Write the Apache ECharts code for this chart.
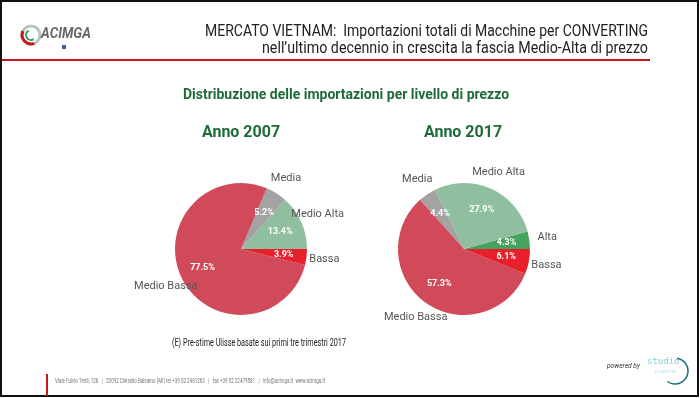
<!DOCTYPE html>
<html>
<head>
<meta charset="utf-8">
<script src="https://cdn.jsdelivr.net/npm/echarts@6/dist/echarts.min.js"></script>
<style>
  html, body { margin: 0; padding: 0; background: #fff; }
  #chart { width: 700px; height: 398px; }
</style>
</head>
<body>
<div id="chart"></div>
<script>
// dati 2007 (ordine antiorario a partire dalle ore 3)
var cat2007 = ['Medio Alta', 'Media', 'Medio Bassa', 'Bassa'];
var val2007 = [13.4, 5.2, 77.5, 3.9];
// dati 2017
var cat2017 = ['Alta', 'Medio Alta', 'Media', 'Medio Bassa', 'Bassa'];
var val2017 = [4.3, 27.9, 4.4, 57.3, 6.1];

var colori = {
    'Alta': '#45a35e',
    'Medio Alta': '#8fbf9e',
    'Media': '#a3a3a3',
    'Medio Bassa': '#d04a59',
    'Bassa': '#e8202c'
};

var verde = '#1e6b38';
var font = 'Roboto';

function dati(cat, val) {
    return cat.map(function (c, i) {
        return { name: c, value: val[i], itemStyle: { color: colori[c] } };
    });
}

// tre serie per ogni torta: fette, percentuali interne, nomi esterni
function torta(cat, val, cx) {
    var base = {
        type: 'pie',
        center: [cx, 249],
        startAngle: 0,
        clockwise: false,
        silent: true,
        animation: false,
        labelLine: { show: false }
    };
    var fette = Object.assign({}, base, {
        radius: [0, 66],
        data: dati(cat, val),
        label: { show: false }
    });
    var perc = Object.assign({}, base, {
        radius: [10, 70],
        data: dati(cat, val).map(function (d) {
            d.itemStyle = { color: 'transparent' };
            return d;
        }),
        label: {
            show: true,
            position: 'inside',
            formatter: function (p) { return p.value.toFixed(1) + '%'; },
            color: '#fff',
            fontFamily: font,
            fontWeight: 'bold',
            fontSize: 9
        }
    });
    var nomi = Object.assign({}, base, {
        radius: [68, 94],
        data: dati(cat, val).map(function (d) {
            d.itemStyle = { color: 'transparent' };
            return d;
        }),
        label: {
            show: true,
            position: 'inside',
            formatter: '{b}',
            color: '#555',
            fontFamily: font,
            fontSize: 11
        }
    });
    return [fette, perc, nomi];
}

// testo "stretto": misura la larghezza e comprime in orizzontale
var ctx = document.createElement('canvas').getContext('2d');
function stretto(text, f, x, y, w, color, align) {
    ctx.font = f;
    var sx = w / ctx.measureText(text).width;
    return {
        type: 'text', x: x, y: y, originX: 0, scaleX: sx,
        style: { text: text, font: f, fill: color, textAlign: align || 'left', textVerticalAlign: 'middle' }
    };
}

var chart = echarts.init(document.getElementById('chart'));

var option = {
    backgroundColor: '#fff',
    series: torta(cat2007, val2007, 241).concat(torta(cat2017, val2017, 464)),
    graphic: [
        // cornice
        { type: 'rect', shape: { x: 1, y: 1, width: 697, height: 395 }, style: { fill: null, stroke: '#111', lineWidth: 2 } },
        // linea rossa sotto l'intestazione
        { type: 'rect', shape: { x: 2, y: 59, width: 648, height: 2 }, style: { fill: '#c8161d' } },
        // logo
        { type: 'circle', shape: { cx: 31, cy: 35, r: 9 }, style: { fill: null, stroke: '#b8c7bd', lineWidth: 3 } },
        { type: 'arc', shape: { cx: 31, cy: 35, r: 9, startAngle: 1.2, endAngle: 3.6 }, style: { fill: null, stroke: '#c8161d', lineWidth: 3 } },
        { type: 'arc', shape: { cx: 31, cy: 35, r: 5, startAngle: 1.0, endAngle: 4.2 }, style: { fill: null, stroke: '#3a9a5a', lineWidth: 2 } },
        stretto('ACIMGA', 'italic bold 15px ' + font, 41, 34, 50, '#666'),
        { type: 'rect', shape: { x: 62, y: 45, width: 4, height: 4 }, style: { fill: '#3a5ba8' } },
        // intestazione
        stretto('MERCATO VIETNAM:  Importazioni totali di Macchine per CONVERTING', '17px ' + font, 205, 32, 443, '#222'),
        stretto('nell\u2019ultimo decennio in crescita la fascia Medio-Alta di prezzo', '17px ' + font, 262, 49, 386, '#222'),
        // titoli
        { type: 'text', x: 346, y: 95, style: { text: 'Distribuzione delle importazioni per livello di prezzo', font: 'bold 14px ' + font, fill: verde, textAlign: 'center', textVerticalAlign: 'middle' } },
        { type: 'text', x: 241, y: 133, style: { text: 'Anno 2007', font: 'bold 16px ' + font, fill: verde, textAlign: 'center', textVerticalAlign: 'middle' } },
        { type: 'text', x: 463, y: 133, style: { text: 'Anno 2017', font: 'bold 16px ' + font, fill: verde, textAlign: 'center', textVerticalAlign: 'middle' } },
        // nota
        stretto('(E) Pre-stime Ulisse basate sui primi tre trimestri 2017', '10px ' + font, 172, 343, 174, '#222'),
        // piè di pagina
        { type: 'rect', shape: { x: 46, y: 374, width: 2, height: 22 }, style: { fill: '#c8161d' } },
        stretto('Viale Fulvio Testi, 128   |   20092 Cinisello Balsamo (MI) tel +39 02 2481262   |   fax +39 02 22479581   |   info@acimga.it  www.acimga.it', '8px ' + font, 55, 381, 270, '#777'),
        stretto('powered by', 'italic 8px ' + font, 607, 366, 33, '#333'),
        { type: 'text', x: 647, y: 362, style: { text: 'studio', font: '9px "DejaVu Sans Mono"', fill: '#7fd0d8', textVerticalAlign: 'middle' } },
        { type: 'text', x: 655, y: 371, style: { text: 'ricerche', font: '6px ' + font, fill: '#b8e3e8', textVerticalAlign: 'middle' } },
        { type: 'arc', shape: { cx: 675, cy: 371, r: 13, startAngle: -1.4, endAngle: 2.2 }, style: { fill: null, stroke: '#1b6f7a', lineWidth: 1.5 } }
    ]
};

chart.setOption(option);
</script>
</body>
</html>
